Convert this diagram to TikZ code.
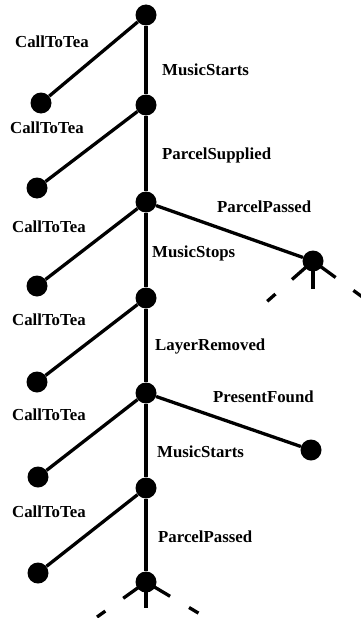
\documentclass[tikz,border=0pt]{standalone}
\usepackage{fontspec}
\setmainfont{Liberation Serif}
\usetikzlibrary{positioning}

\begin{document}
\begin{tikzpicture}[x=1pt, y=-1pt,
    state/.style={circle, fill, inner sep=0pt, minimum size=21pt},
    lbl/.style={anchor=west, inner sep=0pt, font=\fontsize{16.8}{18}\selectfont\bfseries},
    arc/.style={line width=3.3pt},
    stub/.style={line width=3.3pt, dash pattern=on 28pt off 22pt on 11pt off 60pt}]
    \useasboundingbox (0,0) rectangle (360,618);

    % Nodes
    \node[state] (S0) at (146,15) {};
    \node[state] (S1) at (146,105) {};
    \node[state] (S2) at (146,202) {};
    \node[state] (S3) at (146,298) {};
    \node[state] (S4) at (146,393) {};
    \node[state] (S5) at (146,488) {};
    \node[state] (S6) at (146,582) {};

    \node[state] (Tea0) at (41,103) {};
    \node[state] (Tea1) at (37,188) {};
    \node[state] (Tea2) at (37,286) {};
    \node[state] (Tea3) at (37,382) {};
    \node[state] (Tea4) at (38,477) {};
    \node[state] (Tea5) at (38,573) {};

    \node[state] (Passed) at (313,261) {};
    \node[state] (Found) at (311,450) {};

    % loose ends
    \coordinate (PassedL) at (263,305);
    \coordinate (PassedD) at (313,293);
    \coordinate (PassedR) at (372,304);
    \coordinate (S6L) at (97,617);
    \coordinate (S6D) at (146,608);
    \coordinate (S6R) at (200,614);

    % Paths
    \path[arc] (S0) edge (S1);
    \path[arc] (S1) edge (S2);
    \path[arc] (S2) edge (S3);
    \path[arc] (S3) edge (S4);
    \path[arc] (S4) edge (S5);
    \path[arc] (S5) edge (S6);

    \path[arc] (S0) edge (Tea0);
    \path[arc] (S1) edge (Tea1);
    \path[arc] (S2) edge (Tea2);
    \path[arc] (S3) edge (Tea3);
    \path[arc] (S4) edge (Tea4);
    \path[arc] (S5) edge (Tea5);

    \path[arc] (S2) edge (Passed);
    \path[arc] (S4) edge (Found);

    \draw[stub] (Passed.center) -- (PassedL);
    \draw[stub] (Passed.center) -- (PassedD);
    \draw[stub] (Passed.center) -- (PassedR);
    \draw[stub] (S6.center) -- (S6L);
    \draw[stub] (S6.center) -- (S6D);
    \draw[stub] (S6.center) -- (S6R);

    % Labels
    \node[lbl] (lTea0) at (15,42) {CallToTea};
    \node[lbl] (lTea1) at (10,128) {CallToTea};
    \node[lbl] (lTea2) at (12,227) {CallToTea};
    \node[lbl] (lTea3) at (12,320) {CallToTea};
    \node[lbl] (lTea4) at (12,415) {CallToTea};
    \node[lbl] (lTea5) at (12,512) {CallToTea};

    \node[lbl] (lStarts0) at (162,70) {MusicStarts};
    \node[lbl] (lSupplied) at (162,155) {ParcelSupplied};
    \node[lbl] (lPassed0) at (217,207) {ParcelPassed};
    \node[lbl] (lStops) at (152,253) {MusicStops};
    \node[lbl] (lRemoved) at (155,346) {LayerRemoved};
    \node[lbl] (lFound) at (213,397) {PresentFound};
    \node[lbl] (lStarts1) at (157,452) {MusicStarts};
    \node[lbl] (lPassed1) at (158,537) {ParcelPassed};
\end{tikzpicture}
\end{document}
